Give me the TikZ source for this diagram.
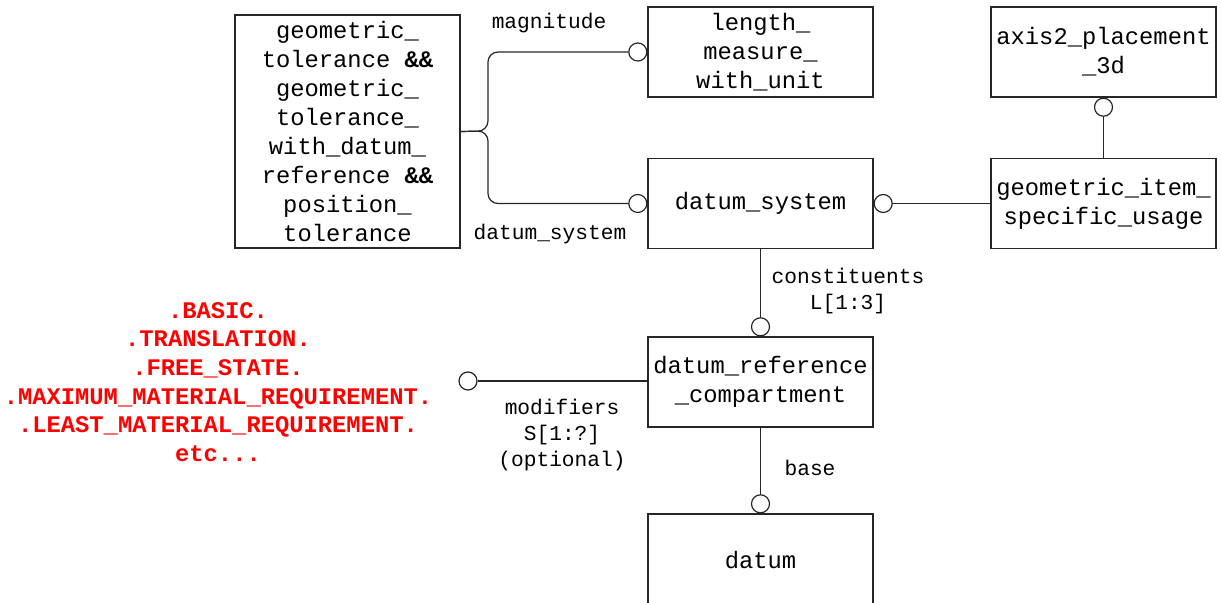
\documentclass[tikz,border=0pt]{standalone}
\usepackage{fontspec}
\setmainfont{Liberation Mono}
\usetikzlibrary{positioning}
\tikzstyle{entity} = [rectangle, draw=black!85, line width=0.6pt, minimum width=112.5pt, minimum height=45pt, align=center, inner sep=0pt, font=\fontsize{11.9}{14.5}\selectfont]
\tikzstyle{ring} = [circle, draw=black!85, line width=0.6pt, minimum size=9pt, inner sep=0pt]
\tikzstyle{rel} = [draw=black!85, line width=0.6pt]
\tikzstyle{lbl} = [align=center, inner sep=0pt, font=\fontsize{10.6}{13.1}\selectfont]
\tikzstyle{enumlist} = [align=center, inner sep=0pt, text=red, font=\fontsize{11.9}{14.3}\selectfont\bfseries]

\begin{document}
\begin{tikzpicture}[x=0.5pt, y=-0.5pt]
      \clip (0,0) rectangle (1221,603);
      \node (gt)[entity, minimum height=116.5pt] at (347.5,131.5) {geometric\_\\tolerance \textbf{\&\&}\\geometric\_\\tolerance\_\\with\_datum\_\\reference \textbf{\&\&}\\position\_\\tolerance};
      \node (lm)[entity] at (760.5,52) {length\_\\measure\_\\with\_unit};
      \node (ax)[entity] at (1103.5,52) {axis2\_placement\\\_3d};
      \node (ds)[entity] at (760.5,203.5) {datum\_system};
      \node (gisu)[entity] at (1103.5,203.5) {geometric\_item\_\\specific\_usage};
      \node (drc)[entity] at (760.5,382) {datum\_reference\\\_compartment};
      \node (dat)[entity, minimum height=46pt] at (760.5,560) {datum};
      \node (mods)[enumlist] at (218,382) {.BASIC.\\.TRANSLATION.\\.FREE\_STATE.\\.MAXIMUM\_MATERIAL\_REQUIREMENT.\\.LEAST\_MATERIAL\_REQUIREMENT.\\etc...};
      % rings at the referenced ends
      \node (r1)[ring, left=0pt of lm] {};
      \node (r2)[ring, left=0pt of ds] {};
      \node (r3)[ring, right=0pt of ds] {};
      \node (r4)[ring, below=0pt of ax] {};
      \node (r5)[ring, above=0pt of drc] {};
      \node (r6)[ring, above=0pt of dat] {};
      \node (r7)[ring] at (468,381) {};
      \coordinate (fork) at (488,131);
      \draw [rel, rounded corners=5pt](gt.east)--(fork)--(fork |- r1)--(r1.west);
      \draw [rel, rounded corners=5pt](gt.east)--(fork)--(fork |- r2)--(r2.west);
      \draw [rel](r3)--(gisu);
      \draw [rel](r4)--(gisu);
      \draw [rel](ds)--(r5);
      \draw [rel](drc.west |- r7)--(r7.east);
      \draw [rel](drc)--(r6);
      \node [lbl] at (549,23) {magnitude};
      \node [lbl] at (550,234) {datum\_system};
      \node [lbl] at (848,291) {constituents\\L[1:3]};
      \node [lbl] at (562,435) {modifiers\\S[1:?]\\(optional)};
      \node [lbl] at (810,468) {base};
    \end{tikzpicture}
\end{document}
